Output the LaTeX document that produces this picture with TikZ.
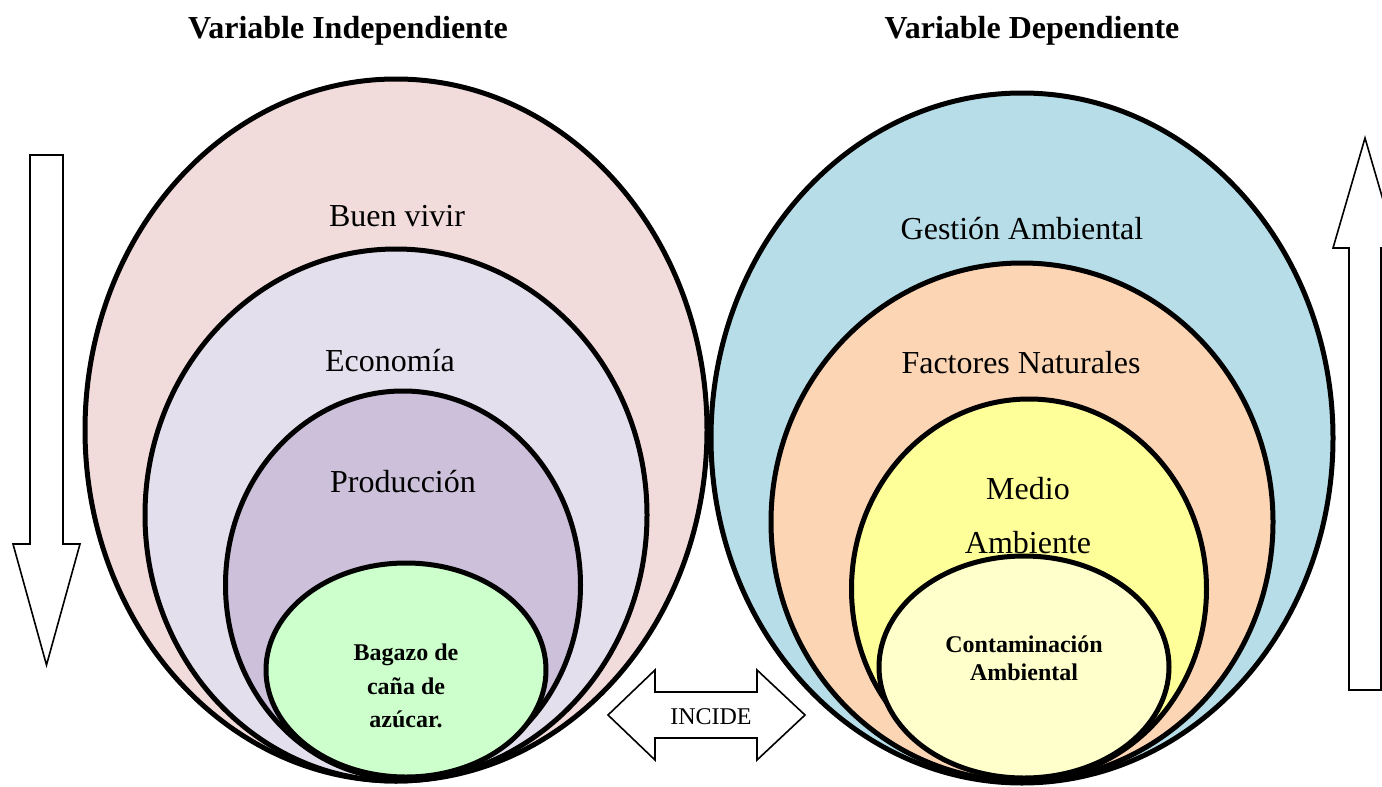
\documentclass[tikz,border=0pt]{standalone}
\usepackage{fontspec}
\setmainfont{Liberation Serif}
\usetikzlibrary{shapes.geometric}
\definecolor{cPink}{HTML}{F2DCDB}
\definecolor{cLav}{HTML}{E4DFEC}
\definecolor{cPurp}{HTML}{CCC0DA}
\definecolor{cGreen}{HTML}{CCFFCC}
\definecolor{cBlue}{HTML}{B7DEE8}
\definecolor{cPeach}{HTML}{FCD5B5}
\definecolor{cYel}{HTML}{FFFF99}
\definecolor{cLYel}{HTML}{FFFFCC}
\tikzset{
  ell/.style={ellipse, draw=black, line width=5pt, inner sep=0pt},
  big/.style={anchor=base, font=\fontsize{32}{38}\selectfont},
  ttl/.style={anchor=base, font=\fontsize{32}{38}\selectfont\bfseries},
  small/.style={anchor=base, font=\fontsize{24}{28}\selectfont\bfseries},
  blockarrow/.style={draw=black, fill=white, line width=1.6pt, line join=miter},
}
\begin{document}
\begin{tikzpicture}[x=1pt,y=-1pt]
\useasboundingbox (0,0) rectangle (1382,787);
\clip (0,0) rectangle (1382,787);
\fill[white] (0,0) rectangle (1382,787);
% titles
\node[ttl] (t1) at (348,38) {Variable Independiente};
\node[ttl] (t2) at (1032,38) {Variable Dependiente};
% left ellipses
\node[ell, fill=cPink, minimum width=622pt, minimum height=702pt] (e1) at (396,430) {};
\node[ell, fill=cLav, minimum width=502pt, minimum height=532pt] (e2) at (396,515) {};
\node[ell, fill=cPurp, minimum width=355pt, minimum height=388pt] (e3) at (403,585) {};
\node[ell, fill=cGreen, minimum width=280pt, minimum height=214pt] (e4) at (406,670) {};
\node[big] (l1) at (397,226) {Buen vivir};
\node[big] (l2) at (390,371) {Economía};
\node[big] (l3) at (403,492) {Producción};
\node[small] (l4a) at (406,660) {Bagazo de};
\node[small] (l4b) at (406,694) {caña de};
\node[small] (l4c) at (406,727) {azúcar.};
% right ellipses
\node[ell, fill=cBlue, minimum width=622pt, minimum height=690pt] (f1) at (1022,438) {};
\node[ell, fill=cPeach, minimum width=502pt, minimum height=518pt] (f2) at (1022,522) {};
\node[ell, fill=cYel, minimum width=355pt, minimum height=380pt] (f3) at (1029,589) {};
\node[ell, fill=cLYel, minimum width=290pt, minimum height=222pt] (f4) at (1024,667) {};
\node[big] (r1) at (1022,239) {Gestión Ambiental};
\node[big] (r2) at (1021,373) {Factores Naturales};
\node[big] (r3a) at (1028,499) {Medio};
\node[big] (r3b) at (1028,553) {Ambiente};
\node[small] (r4a) at (1024,652) {Contaminación};
\node[small] (r4b) at (1024,680) {Ambiental};
% block arrows
\draw[blockarrow] (30,155) -- (63,155) -- (63,544) -- (80,544) -- (46.5,665) -- (13,544) -- (30,544) -- cycle;
\draw[blockarrow] (1349,690) -- (1349,248) -- (1333,248) -- (1365,138) -- (1397,248) -- (1381,248) -- (1381,690) -- cycle;
\draw[blockarrow] (608,715) -- (655,670) -- (655,692) -- (757,692) -- (757,670) -- (805,715) -- (757,760) -- (757,738) -- (655,738) -- (655,760) -- cycle;
\node[anchor=base, font=\fontsize{24}{28}\selectfont] (inc) at (711,724) {INCIDE};
\end{tikzpicture}
\end{document}
